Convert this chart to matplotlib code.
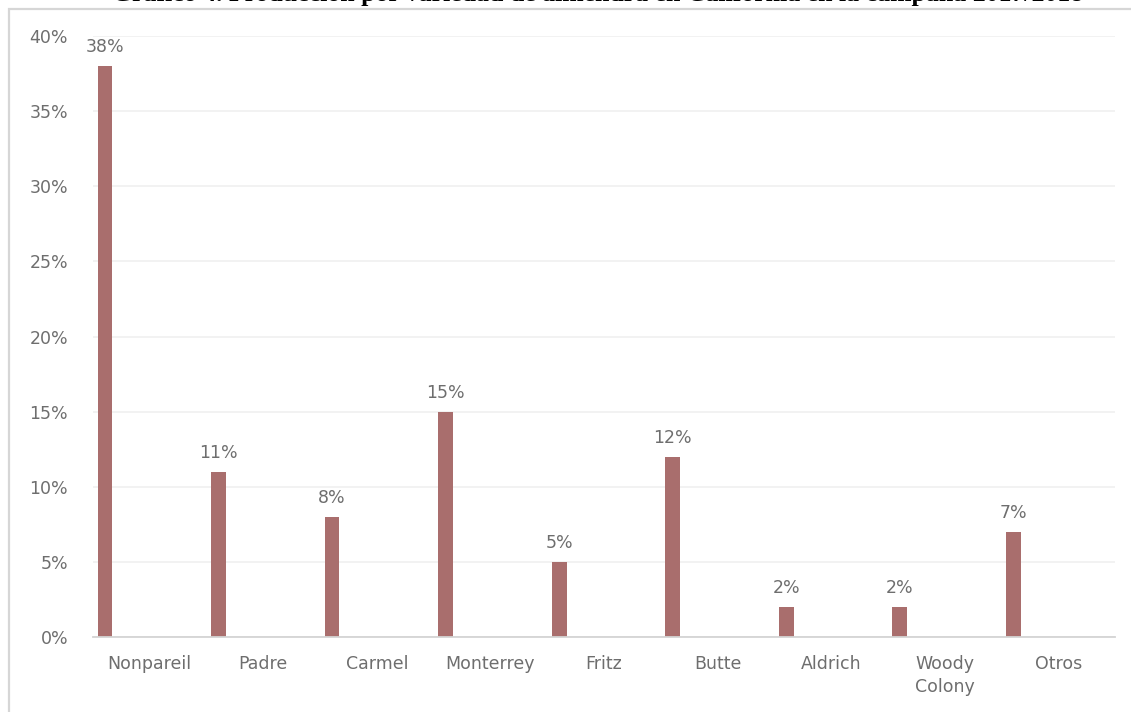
import matplotlib
matplotlib.use("Agg")
import numpy as np
from matplotlib import pyplot as plt
from matplotlib.patches import Rectangle
from matplotlib.ticker import FuncFormatter, MultipleLocator

variedades = ["Nonpareil", "Padre", "Carmel", "Monterrey", "Fritz",
              "Butte", "Aldrich", "Woody\nColony", "Otros"]
produccion = [38, 11, 8, 15, 5, 12, 2, 2, 7]

titulo = ("Gráfico 4. Producción por variedad de almendra en California "
          "en la campaña 2017/2018")

W, H = 1131, 712
fig = plt.figure(figsize=(W / 100, H / 100), dpi=100)
fig.patch.set_facecolor("white")

# marco gris del area del grafico
fig.patches.append(Rectangle((9 / W, -0.1), 1.2, 1.1 - 9 / H,
                             transform=fig.transFigure, fill=False,
                             edgecolor="#d6d6d6", lw=1.6))

# titulo recortado por el borde superior
fig.text(112 / W, 1 - 0.5 / H, titulo, family="Liberation Serif",
         weight="bold", fontsize=18.5, color="black",
         ha="left", va="baseline")

ax = fig.add_axes([93 / W, 75 / H, (1115 - 93) / W, (676 - 75) / H])

x = np.arange(len(variedades))
ancho = 0.13
pos = x - 0.5 + 0.04 + ancho / 2
barras = ax.bar(pos, produccion, width=ancho, color="#a96e6d", zorder=3)

gris = "#6e6e6e"
fs = 12.5
for xb, v in zip(pos, produccion):
    ax.annotate("{}%".format(v), (xb, v), xytext=(0, 7),
                textcoords="offset points", ha="center", va="bottom",
                fontsize=fs, color=gris, family="DejaVu Sans")

ax.set_xlim(-0.5, len(variedades) - 0.5)
ax.set_ylim(0, 40)
ax.yaxis.set_major_locator(MultipleLocator(5))
ax.yaxis.set_major_formatter(FuncFormatter(lambda v, p: "{:.0f}%".format(v)))
ax.set_xticks(x)
ax.set_xticklabels(variedades)

for lab in ax.get_xticklabels() + ax.get_yticklabels():
    lab.set_family("DejaVu Sans")
    lab.set_fontsize(fs)
    lab.set_color(gris)

ax.tick_params(axis="y", length=0, pad=18)
ax.tick_params(axis="x", length=0, pad=13)
for lab in ax.get_xticklabels():
    lab.set_verticalalignment("top")
    lab.set_linespacing(1.35)

ax.grid(axis="y", color="#f0f0f0", lw=1.2, zorder=0)
for s in ["top", "right", "left"]:
    ax.spines[s].set_visible(False)
ax.spines["bottom"].set_color("#d4d4d4")
ax.spines["bottom"].set_linewidth(1.3)
ax.spines["bottom"].set_zorder(4)

fig.savefig("out.png", dpi=100)
